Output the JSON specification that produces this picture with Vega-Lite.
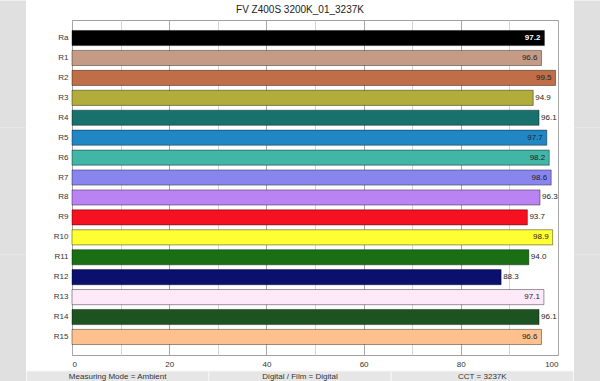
{
  "$schema": "https://vega.github.io/schema/vega-lite/v6.json",
  "background": "white",
  "padding": 0,
  "config": {
    "font": "Liberation Sans",
    "concat": {"spacing": 0},
    "title": {"font": "Liberation Sans", "fontSize": 10, "fontWeight": "normal", "color": "#222222", "anchor": "middle", "offset": 5.5},
    "axis": {"labelFont": "Liberation Sans", "labelFontSize": 8, "labelColor": "#333333"}
  },
  "datasets": {
    "cri": [
      {"name": "Ra", "value": 97.2},
      {"name": "R1", "value": 96.6},
      {"name": "R2", "value": 99.5},
      {"name": "R3", "value": 94.9},
      {"name": "R4", "value": 96.1},
      {"name": "R5", "value": 97.7},
      {"name": "R6", "value": 98.2},
      {"name": "R7", "value": 98.6},
      {"name": "R8", "value": 96.3},
      {"name": "R9", "value": 93.7},
      {"name": "R10", "value": 98.9},
      {"name": "R11", "value": 94.0},
      {"name": "R12", "value": 88.3},
      {"name": "R13", "value": 97.1},
      {"name": "R14", "value": 96.1},
      {"name": "R15", "value": 96.6}
    ],
    "footer": [
      {"box": "Measuring Mode = Ambient"},
      {"box": "Digital / Film = Digital"},
      {"box": "CCT = 3237K"}
    ]
  },
  "columns": 3,
  "align": "none",
  "spacing": 0,
  "concat": [
    {
      "width": 26,
      "height": 340,
      "data": {"name": "footer"},
      "view": {"stroke": null},
      "mark": {"type": "rect", "fill": "#e0e0e0", "stroke": null},
      "encoding": {"y": {"field": "box", "type": "nominal", "sort": null, "axis": null, "scale": {"range": [-19.5, 361.5], "paddingInner": 0, "paddingOuter": 0}}}
    },
    {
      "columns": 1,
      "align": "none",
      "spacing": 0,
      "concat": [
        {
          "title": {"text": "FV Z400S 3200K_01_3237K", "frame": "group", "dx": -15},
          "width": 486,
          "height": 335,
          "data": {"name": "cri"},
          "view": {"stroke": "#a0a0a0", "fill": "white"},
          "encoding": {
            "y": {
              "field": "name", "type": "nominal", "sort": null, "title": null,
              "scale": {"paddingInner": 0.24, "paddingOuter": 0.525},
              "axis": {"ticks": false, "domain": false, "labelPadding": 4, "minExtent": 43, "maxExtent": 43, "grid": false}
            },
            "x": {
              "field": "value", "type": "quantitative", "title": null,
              "scale": {"domain": [0, 100], "nice": false},
              "axis": {
                "values": [0, 10, 20, 30, 40, 50, 60, 70, 80, 90, 100],
                "labelExpr": "datum.value % 20 === 0 ? datum.label : ''",
                "ticks": false, "tickSize": 0, "domain": false, "labelPadding": 5,
                "minExtent": 14.5, "maxExtent": 14.5,
                "grid": true,
                "gridColor": {"condition": {"test": "datum.value % 20 === 0", "value": "#a8a8a8"}, "value": "#d6d6d6"},
                "gridWidth": 1
              }
            }
          },
          "layer": [
            {
              "mark": {"type": "bar", "stroke": "#000000", "strokeOpacity": 0.4, "strokeWidth": 1},
              "encoding": {
                "color": {
                  "field": "name", "type": "nominal", "legend": null,
                  "scale": {
                    "domain": ["Ra", "R1", "R2", "R3", "R4", "R5", "R6", "R7", "R8", "R9", "R10", "R11", "R12", "R13", "R14", "R15"],
                    "range": ["#000000", "#c59b86", "#bf6e47", "#b2ad3b", "#18716d", "#2187c4", "#41b5a6", "#8985ee", "#b983f4", "#f5111f", "#ffff33", "#1a6e14", "#0b0f6e", "#fde9f8", "#1d5221", "#fec18d"]
                  }
                }
              }
            },
            {
              "transform": [{"filter": "datum.value > 96.5 && datum.name !== 'Ra'"}],
              "mark": {"type": "text", "align": "right", "dx": -4, "fontSize": 8, "font": "Liberation Sans"},
              "encoding": {"text": {"field": "value", "type": "quantitative", "format": ".1f"}, "color": {"value": "#222222"}}
            },
            {
              "transform": [{"filter": "datum.value <= 96.5"}],
              "mark": {"type": "text", "align": "left", "dx": 2, "fontSize": 8, "font": "Liberation Sans"},
              "encoding": {"text": {"field": "value", "type": "quantitative", "format": ".1f"}, "color": {"value": "#222222"}}
            },
            {
              "transform": [{"filter": "datum.name === 'Ra'"}],
              "mark": {"type": "text", "align": "right", "dx": -4, "fontSize": 8, "fontWeight": "bold", "font": "Liberation Sans"},
              "encoding": {"text": {"field": "value", "type": "quantitative", "format": ".1f"}, "color": {"value": "#ffffff"}}
            }
          ]
        },
        {
          "width": 486,
          "height": 12,
          "data": {"name": "footer"},
          "view": {"stroke": null},
          "encoding": {
            "x": {"field": "box", "type": "nominal", "sort": null, "axis": null, "scale": {"range": [-45.5, 501.5], "paddingInner": 0, "paddingOuter": 0}}
          },
          "layer": [
            {"mark": {"type": "rect", "fill": "#e6e6e6", "stroke": "#f6f6f6", "strokeWidth": 1}},
            {"mark": {"type": "text", "fontSize": 8, "font": "Liberation Sans", "color": "#333333"}, "encoding": {"text": {"field": "box", "type": "nominal"}}}
          ]
        }
      ]
    },
    {
      "width": 27,
      "height": 340,
      "data": {"name": "footer"},
      "view": {"stroke": null},
      "mark": {"type": "rect", "fill": "#e0e0e0", "stroke": null},
      "encoding": {"y": {"field": "box", "type": "nominal", "sort": null, "axis": null, "scale": {"range": [-19.5, 361.5], "paddingInner": 0, "paddingOuter": 0}}}
    }
  ]
}
